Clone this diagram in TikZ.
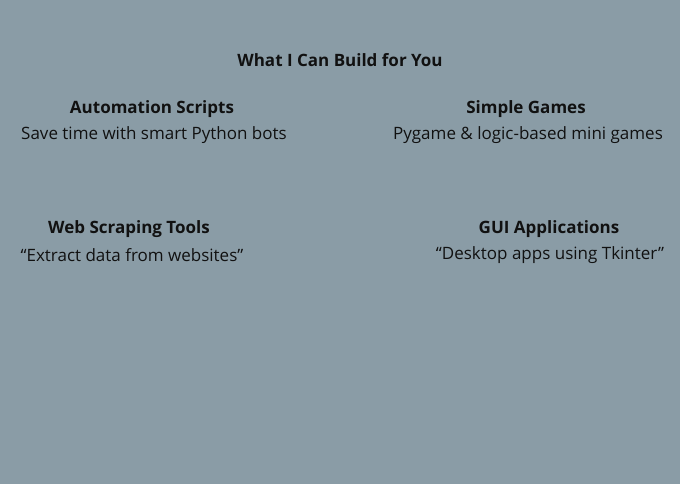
\documentclass[tikz,border=0pt]{standalone}
\usepackage{fontspec}
\setmainfont{Open Sans}
\usetikzlibrary{positioning}
\definecolor{bgslate}{HTML}{8A9CA6}
\definecolor{inkdark}{HTML}{111111}
\tikzset{
  head/.style={text=inkdark,font=\fontsize{17}{20}\selectfont\bfseries,inner sep=0pt},
  body/.style={text=inkdark,font=\fontsize{17}{20}\selectfont,inner sep=0pt},
}
\begin{document}
\begin{tikzpicture}[x=1pt,y=-1pt]
  \fill[bgslate] (0,0) rectangle (680,484);
  \useasboundingbox (0,0) rectangle (680,484);
  \node[head] (title) at (340,60) {What I Can Build for You};
  % top row
  \node[head] (auto) at (152,109) {Automation Scripts};
  \node[body] (autotxt) at (154,135) {Save time with smart Python bots};
  \node[head] (games) at (526,109) {Simple Games};
  \node[body] (gamestxt) at (528,135) {Pygame \& logic-based mini games};
  % bottom row
  \node[head] (web) at (129,229) {Web Scraping Tools};
  \node[body] (webtxt) at (132,255) {“Extract data from websites”};
  \node[head] (gui) at (549,229) {GUI Applications};
  \node[body] (guitxt) at (550,255) {“Desktop apps using Tkinter”};
\end{tikzpicture}
\end{document}
